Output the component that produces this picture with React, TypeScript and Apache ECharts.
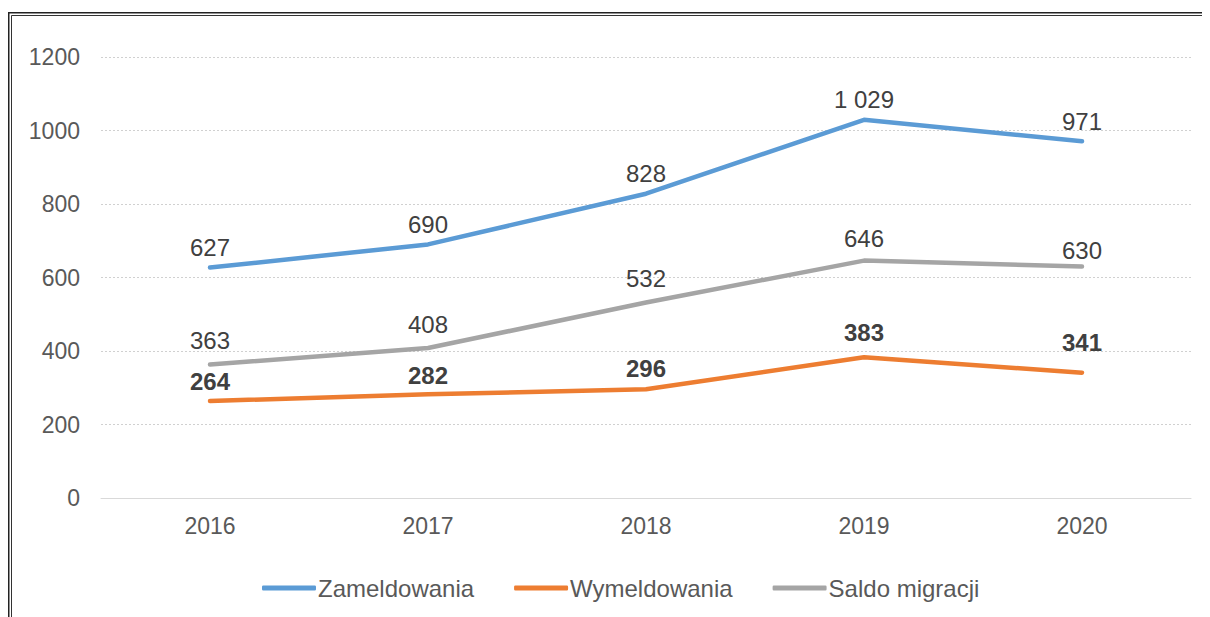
import React, { useEffect, useRef } from "react";
import * as echarts from "echarts";

const years = ["2016", "2017", "2018", "2019", "2020"];
const zameldowania = [627, 690, 828, 1029, 971];
const wymeldowania = [264, 282, 296, 383, 341];
const saldo = [363, 408, 532, 646, 630];
const seriesNames = ["Zameldowania", "Wymeldowania", "Saldo migracji"];

const FONT = "'Liberation Sans', Arial, sans-serif";
const TXT = "#595959";

const fmt = (v: number) => {
  const s = String(v);
  return s.length > 3 ? s.slice(0, s.length - 3) + " " + s.slice(s.length - 3) : s;
};

export default function App() {
  const ref = useRef<HTMLDivElement>(null);
  useEffect(() => {
    if (!ref.current) return;
    const chart = echarts.init(ref.current, undefined, { renderer: "svg" });

    const blueOffsets = [[2, 0], [-4, 0], [-9, 0], [-6, 0], [6, 0]];
    const orangeOffsets = [[-5, 0], [-8, 0], [7, 0], [-1, 0], [-4, 0]];
    const grayOffsets = [[2, 0], [-13, 0], [14, 0], [-1, 0], [1, 0]];
    const grayDist = [12, 12, 12, 10, 4];
    const orangeDist = [7, 7, 9, 13, 18];

    const mk = (vals: number[], offs: number[][], dist: number[] | number) =>
      vals.map((v, i) => ({
        value: v,
        label: {
          offset: offs[i],
          distance: Array.isArray(dist) ? dist[i] : dist,
        },
      }));

    const labelBase = (bold: boolean) => ({
      show: true,
      position: "top" as const,
      fontFamily: FONT,
      fontSize: 24,
      color: "#404040",
      fontWeight: bold ? ("bold" as const) : ("normal" as const),
      formatter: (p: any) => fmt(p.value),
    });

    const line = (name: string, data: any[], color: string, bold: boolean) => ({
      name,
      type: "line",
      data,
      showSymbol: true,
      symbol: "circle",
      symbolSize: 0,
      lineStyle: { color, width: 4.5, cap: "round", join: "round" },
      itemStyle: { color },
      label: labelBase(bold),
      labelLayout: { hideOverlap: false },
      z: 3,
    });

    chart.setOption({
      animation: false,
      backgroundColor: "#ffffff",
      textStyle: { fontFamily: FONT },
      graphic: [
        {
          type: "rect",
          shape: { x: 0.75, y: 4.75, width: 1400, height: 800 },
          style: { fill: "none", stroke: "#222", lineWidth: 1.5 },
          silent: true,
        },
        {
          type: "rect",
          shape: { x: 3.5, y: 7.5, width: 1400, height: 800 },
          style: { fill: "none", stroke: "#333", lineWidth: 1 },
          silent: true,
        },
      ],
      grid: { left: 93, right: 19, top: 49, bottom: 119, containLabel: false },
      legend: {
        left: 249,
        top: 563,
        itemWidth: 54,
        itemHeight: 5,
        itemGap: 40,
        icon: "roundRect",
        data: seriesNames,
        textStyle: { fontFamily: FONT, fontSize: 24, color: TXT, padding: [0, 0, 0, -3] },
      },
      xAxis: {
        type: "category",
        data: years,
        boundaryGap: true,
        axisLine: { lineStyle: { color: "#D9D9D9", width: 1 } },
        axisTick: { show: false },
        axisLabel: { fontFamily: FONT, fontSize: 23, color: TXT, margin: 16 },
      },
      yAxis: {
        type: "value",
        min: 0,
        max: 1200,
        interval: 200,
        axisLine: { show: false },
        axisTick: { show: false },
        axisLabel: {
          fontFamily: FONT,
          fontSize: 23,
          color: TXT,
          margin: 21,
          formatter: (v: number) => String(v),
        },
        splitLine: { lineStyle: { color: "#D0D0D0", width: 1, type: [2, 2] } },
      },
      series: [
        line(seriesNames[0], mk(zameldowania, blueOffsets, 8), "#5B9BD5", false),
        line(seriesNames[1], mk(wymeldowania, orangeOffsets, orangeDist), "#ED7D31", true),
        line(seriesNames[2], mk(saldo, grayOffsets, grayDist), "#A5A5A5", false),
      ],
    });
    return () => chart.dispose();
  }, []);
  return <div ref={ref} style={{ width: 1202, height: 609 }} />;
}
